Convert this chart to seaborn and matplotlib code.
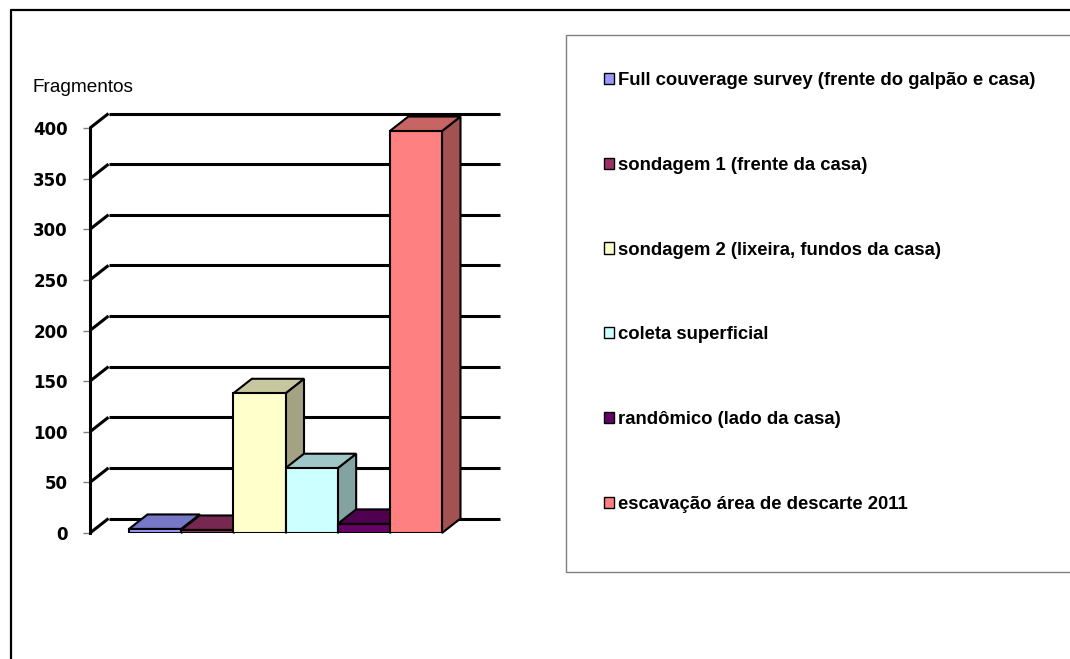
import matplotlib
matplotlib.use("Agg")
import matplotlib.pyplot as plt
from matplotlib.patches import Polygon, Rectangle, Patch
from matplotlib.lines import Line2D
import seaborn as sns
import pandas as pd

# Fragment counts per collection context
categories = [
    "Full couverage survey (frente do galpão e casa)",
    "sondagem 1 (frente da casa)",
    "sondagem 2 (lixeira, fundos da casa)",
    "coleta superficial",
    "randômico (lado da casa)",
    "escavação área de descarte 2011",
]
values = [4, 3, 138, 64, 9, 397]
front_colors = ["#9999FF", "#993366", "#FFFFCC", "#CCFFFF", "#660066", "#FF8080"]
y_ticks = [0, 50, 100, 150, 200, 250, 300, 350, 400]
y_label = "Fragmentos"

W, H, DPI = 1070, 659, 100

sns.set_theme(style="white")
plt.rcParams["font.family"] = ["Liberation Sans", "DejaVu Sans"]
plt.rcParams["text.color"] = "black"
plt.rcParams["axes.labelcolor"] = "black"
plt.rcParams["ytick.labelcolor"] = "black"

fig = plt.figure(figsize=(W / DPI, H / DPI), dpi=DPI)


def fx(px):
    return px / W


def fy(py):
    return 1 - py / H


# plotting area in pixels: front wall x=90, right end 500, y=0 at 533, y=400 at 128
ax = fig.add_axes([fx(90), fy(533), fx(500) - fx(90), fy(128) - fy(533)])
ax.patch.set_alpha(0)

df = pd.DataFrame({"categoria": categories, "fragmentos": values})
sns.barplot(data=df, x="categoria", y="fragmentos", hue="categoria",
            order=categories, hue_order=categories, palette=front_colors,
            width=1.0, edgecolor="black", linewidth=1.5, saturation=1,
            legend=False, ax=ax)

# data window: bars span 129..442 px
bar_px = (442 - 129) / len(categories)
x_left = -0.5 - (129 - 90) / bar_px
x_right = len(categories) - 0.5 + (500 - 442) / bar_px
ax.set_xlim(x_left, x_right)
ax.set_ylim(0, 400)

# depth offset of the 3-D look, in data units
px_per_y = (533 - 128) / 400
dx = 18.5 / bar_px
dy = 14.5 / px_per_y


def shade(hex_color, f):
    r, g, b = matplotlib.colors.to_rgb(hex_color)
    return (r * f, g * f, b * f)


# back-wall gridlines and side-wall diagonals
for t in y_ticks:
    ax.plot([x_left + dx, x_right], [t + dy, t + dy], color="black",
            lw=2.2, clip_on=False, zorder=1, solid_capstyle="butt")
    ax.plot([x_left, x_left + dx], [t, t + dy], color="black",
            lw=2.2, clip_on=False, zorder=1, solid_capstyle="butt")

# top and side faces of each column
for i, (bar, col) in enumerate(zip(ax.patches, front_colors)):
    z = 3 + i * 0.1
    bar.set_zorder(z + 0.05)
    x0, w, h = bar.get_x(), bar.get_width(), bar.get_height()
    top = Polygon([(x0, h), (x0 + w, h), (x0 + w + dx, h + dy), (x0 + dx, h + dy)],
                  closed=True, facecolor=shade(col, 0.78), edgecolor="black",
                  lw=1.5, clip_on=False, zorder=z)
    side = Polygon([(x0 + w, 0), (x0 + w, h), (x0 + w + dx, h + dy), (x0 + w + dx, dy)],
                   closed=True, facecolor=shade(col, 0.64), edgecolor="black",
                   lw=1.5, clip_on=False, zorder=z)
    ax.add_patch(side)
    ax.add_patch(top)

for s in ["top", "right", "bottom"]:
    ax.spines[s].set_visible(False)
ax.spines["left"].set_color("black")
ax.spines["left"].set_linewidth(2.2)
ax.set_xticks([])
ax.set_xlabel("")
ax.set_ylabel("")
ax.set_yticks(y_ticks)
ax.set_yticklabels([str(t) for t in y_ticks], fontfamily="DejaVu Sans",
                   fontweight="bold", fontsize=12, color="black")
ax.tick_params(axis="y", direction="out", length=5, width=1, color="#808080",
               pad=11, left=True)

fig.text(fx(32), fy(88), y_label, fontsize=13.7, ha="left", va="center",
         color="black")

# legend box
fig.patches.append(Rectangle((fx(566), fy(572)), fx(1075) - fx(566), fy(35) - fy(572),
                             transform=fig.transFigure, facecolor="none",
                             edgecolor="#808080", lw=1.0))
handles = [Patch(facecolor=c, edgecolor="black", lw=1.0) for c in front_colors]
leg = fig.legend(handles, categories, loc="upper left",
                 bbox_to_anchor=(fx(604), fy(72)), frameon=False,
                 prop={"family": "Liberation Sans", "weight": "bold", "size": 13.3},
                 handlelength=0.55, handleheight=0.55, handletextpad=0.2,
                 labelspacing=3.67, borderpad=0, borderaxespad=0)
for txt in leg.get_texts():
    txt.set_color("black")

# outer chart frame
fig.add_artist(Line2D([fx(11), fx(1070)], [fy(10), fy(10)], color="black", lw=1.6,
                      transform=fig.transFigure))
fig.add_artist(Line2D([fx(11), fx(11)], [fy(10), fy(659)], color="black", lw=1.6,
                      transform=fig.transFigure))

fig.savefig("out.png", dpi=DPI)
